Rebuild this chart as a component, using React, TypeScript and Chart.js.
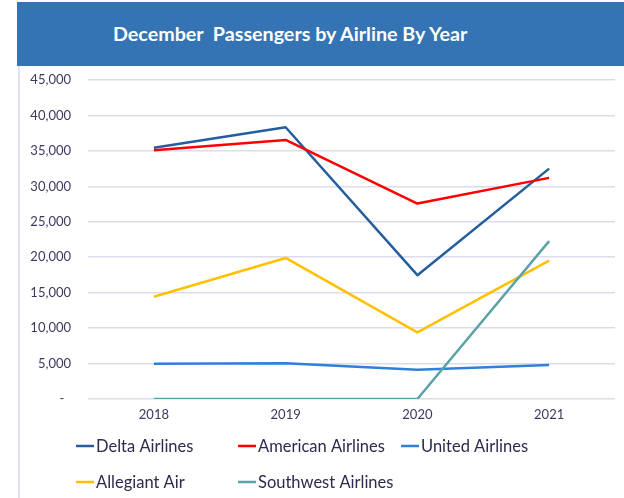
import React, { useEffect, useRef } from "react";
import { Chart, registerables } from "chart.js";

Chart.register(...registerables);

const years = ["2018", "2019", "2020", "2021"];
const deltaAirlines = [35450, 38330, 17470, 32500];
const americanAirlines = [35090, 36540, 27570, 31190];
const unitedAirlines = [4970, 5050, 4130, 4790];
const allegiantAir = [14420, 19900, 9390, 19530];
const southwestAirlines = [0, 0, 0, 22270];
const seriesNames = ["Delta Airlines", "American Airlines", "United Airlines", "Allegiant Air", "Southwest Airlines"];
const seriesColors = ["#255e9e", "#ff0000", "#2f80d8", "#ffc000", "#5ba3a8"];
const yMin = 0;
const yMax = 45000;
const yStep = 5000;

const FONT = "Lato, 'Open Sans', sans-serif";

const legendPlugin = {
  id: "gridLegend",
  afterDraw(chart: any) {
    const ctx = chart.ctx;
    const cols = [56, 218, 381];
    const rows = [380, 416];
    ctx.save();
    ctx.font = `16.5px ${FONT}`;
    ctx.textBaseline = "middle";
    ctx.textAlign = "left";
    chart.data.datasets.forEach((ds: any, i: number) => {
      const x = cols[i % 3];
      const y = rows[Math.floor(i / 3)];
      ctx.strokeStyle = ds.borderColor;
      ctx.lineWidth = 2.5;
      ctx.beginPath();
      ctx.moveTo(x, y);
      ctx.lineTo(x + 18, y);
      ctx.stroke();
      ctx.fillStyle = "#2b2b4d";
      ctx.fillText(ds.label, x + 20, y + 1);
    });
    ctx.restore();
  },
};

export default function App() {
  const ref = useRef<HTMLCanvasElement>(null);
  useEffect(() => {
    if (!ref.current) return;
    const values = [deltaAirlines, americanAirlines, unitedAirlines, allegiantAir, southwestAirlines];
    const chart = new Chart(ref.current, {
      type: "line",
      data: {
        labels: years,
        datasets: values.map((v, i) => ({
          label: seriesNames[i],
          data: v,
          borderColor: seriesColors[i],
          backgroundColor: seriesColors[i],
          borderWidth: 2.5,
          pointRadius: 0,
          tension: 0,
          borderJoinStyle: "round" as const,
          order: values.length - i,
        })),
      },
      options: {
        animation: false,
        responsive: true,
        maintainAspectRatio: false,
        layout: { padding: { left: 0, right: 9, top: 14, bottom: 69 } },
        plugins: {
          legend: { display: false },
          title: { display: false },
          tooltip: { enabled: false },
        },
        scales: {
          x: {
            offset: true,
            grid: { display: false, drawTicks: false },
            border: { display: false },
            ticks: { color: "#3a3a5e", font: { family: FONT, size: 13 }, padding: 8 },
            afterFit: (s: any) => { s.height = 30; s.paddingLeft = 0; s.paddingRight = 0; },
          },
          y: {
            min: yMin,
            max: yMax,
            grid: { color: "#dcdcee", lineWidth: 1.5, drawTicks: false },
            border: { display: false },
            ticks: {
              stepSize: yStep,
              color: "#3a3a5e",
              font: { family: FONT, size: 13 },
              padding: 17,
              callback: (v: any) => (Number(v) === 0 ? "-  " : Number(v).toLocaleString("en-US")),
            },
            afterFit: (s: any) => { s.width = 68; s.paddingTop = 0; s.paddingBottom = 0; },
          },
        },
      },
      plugins: [legendPlugin],
    });
    return () => chart.destroy();
  }, []);

  return (
    <div style={{ position: "fixed", left: 0, top: 0, width: 624, height: 498, background: "#ffffff", overflow: "hidden" }}>
      <div
        style={{
          position: "absolute",
          left: 17,
          top: 2,
          width: 607,
          height: 64,
          background: "#3474b4",
        }}
      >
        <div
          style={{
            position: "absolute",
            left: 96,
            top: 0,
            height: 64,
            lineHeight: "64px",
            color: "#ffffff",
            fontFamily: FONT,
            fontWeight: 700,
            fontSize: 19.7,
            whiteSpace: "pre",
          }}
        >
          {"December  Passengers by Airline By Year"}
        </div>
      </div>
      <div style={{ position: "absolute", left: 18, top: 66, width: 2, height: 432, background: "#e2e2f2" }} />
      <div style={{ position: "absolute", left: 20, top: 66, width: 604, height: 432 }}>
        <canvas ref={ref} />
      </div>
    </div>
  );
}
